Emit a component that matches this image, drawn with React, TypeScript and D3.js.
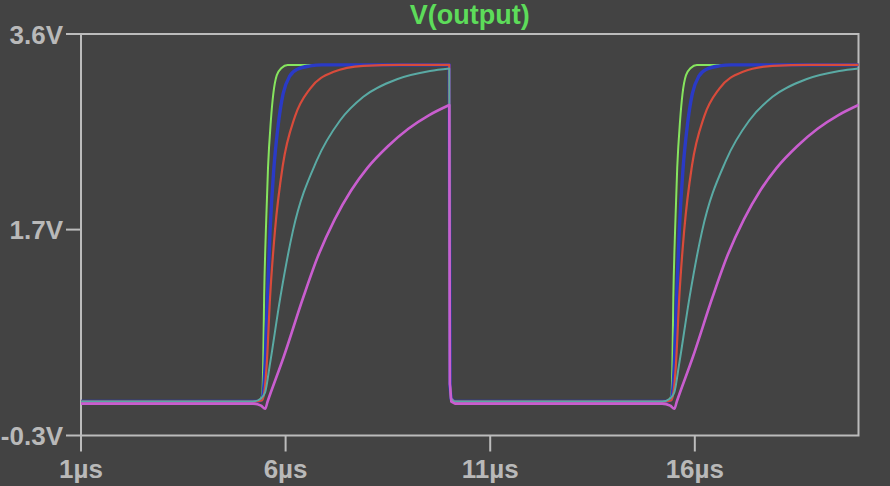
import React from 'react';
import * as d3 from 'd3';

const W = 890;
const H = 486;

const title = 'V(output)';
const xDomain: [number, number] = [1, 20];
const yDomain: [number, number] = [-0.3, 3.6];
const xTicks = [1, 6, 11, 16];
const xTickLabels = ['1µs', '6µs', '11µs', '16µs'];
const yTicks = [3.6, 1.7, -0.3];
const yTickLabels = ['3.6V', '1.7V', '-0.3V'];

// [time µs, volts].
// Each series: smooth part up to the falling edge, the falling edge, then the next smooth part.
const greenRise1: [number, number][] = [
  [1, 0.03], [5.25, 0.03], [5.38, 0.05], [5.43, 0.1], [5.45, 0.35], [5.475, 1.04], [5.52, 1.72],
  [5.57, 2.3], [5.64, 2.76], [5.7, 3.02], [5.785, 3.2], [5.9, 3.27], [6.05, 3.3], [10.0, 3.3],
];
const greenFall: [number, number][] = [[10.0, 3.3], [10.015, 0.2], [10.04, 0.06], [10.12, 0.03]];
const greenRise2: [number, number][] = [
  [10.12, 0.03], [15.25, 0.03], [15.38, 0.05], [15.43, 0.1], [15.45, 0.35], [15.475, 1.04], [15.52, 1.72],
  [15.57, 2.3], [15.64, 2.76], [15.7, 3.02], [15.785, 3.2], [15.9, 3.27], [16.05, 3.3], [20, 3.3],
];

const blueRise1: [number, number][] = [
  [1, 0.03], [5.25, 0.03], [5.4, 0.04], [5.45, 0.1], [5.5, 0.4], [5.555, 1.04], [5.62, 1.69],
  [5.71, 2.28], [5.82, 2.72], [5.94, 3.02], [6.1, 3.19], [6.3, 3.26], [6.6, 3.29], [6.9, 3.3],
  [10.0, 3.3],
];
const blueFall: [number, number][] = [[10.0, 3.3], [10.015, 0.2], [10.04, 0.06], [10.12, 0.03]];
const blueRise2: [number, number][] = [
  [10.12, 0.03], [15.25, 0.03], [15.4, 0.04], [15.45, 0.1], [15.5, 0.4], [15.555, 1.04], [15.62, 1.69],
  [15.71, 2.28], [15.82, 2.72], [15.94, 3.02], [16.1, 3.19], [16.3, 3.26], [16.6, 3.29], [16.9, 3.3],
  [20, 3.3],
];

const redRise1: [number, number][] = [
  [1, 0.03], [5.25, 0.03], [5.42, 0.04], [5.48, 0.12], [5.54, 0.4], [5.62, 1.04], [5.74, 1.69],
  [5.93, 2.32], [6.23, 2.8], [6.6, 3.07], [7.16, 3.23], [7.9, 3.29], [8.8, 3.3], [10.0, 3.3],
];
const redFall: [number, number][] = [[10.0, 3.3], [10.015, 0.2], [10.04, 0.06], [10.12, 0.03]];
const redRise2: [number, number][] = [
  [10.12, 0.03], [15.25, 0.03], [15.42, 0.04], [15.48, 0.12], [15.54, 0.4], [15.62, 1.04], [15.74, 1.69],
  [15.93, 2.32], [16.23, 2.8], [16.6, 3.07], [17.16, 3.23], [17.9, 3.29], [18.8, 3.3], [20, 3.3],
];

const cyanRise1: [number, number][] = [
  [1, 0.03], [5.2, 0.03], [5.4, 0.06], [5.5, 0.12], [5.62, 0.4], [5.87, 1.04], [6.18, 1.69],
  [6.76, 2.37], [7.33, 2.76], [7.9, 2.99], [8.72, 3.16], [9.53, 3.24], [10.0, 3.265],
];
const cyanFall: [number, number][] = [[10.0, 3.265], [10.015, 0.2], [10.04, 0.06], [10.12, 0.03]];
const cyanRise2: [number, number][] = [
  [10.12, 0.03], [15.2, 0.03], [15.4, 0.06], [15.5, 0.12], [15.62, 0.4], [15.87, 1.04], [16.18, 1.69],
  [16.76, 2.37], [17.33, 2.76], [17.9, 2.99], [18.72, 3.16], [19.53, 3.24], [20, 3.265],
];

const magentaRise1: [number, number][] = [
  [1, 0.01], [5.2, 0.01], [5.4, -0.01], [5.5, -0.04], [5.56, 0.03], [5.95, 0.46], [6.43, 1.04],
  [6.8, 1.45], [7.2, 1.8], [7.6, 2.08], [8.0, 2.3], [8.5, 2.51], [9.0, 2.68], [9.5, 2.81], [10.0, 2.91],
];
const magentaFall: [number, number][] = [[10.0, 2.91], [10.015, 0.2], [10.05, 0.03], [10.14, 0.01]];
const magentaRise2: [number, number][] = [
  [10.14, 0.01], [15.2, 0.01], [15.4, -0.01], [15.5, -0.04], [15.56, 0.03], [15.95, 0.46], [16.43, 1.04],
  [16.8, 1.45], [17.2, 1.8], [17.6, 2.08], [18.0, 2.3], [18.5, 2.51], [19.0, 2.68], [19.5, 2.81], [20, 2.91],
];

const seriesList = [
  { name: 'green', parts: [greenRise1, greenFall, greenRise2], color: '#86e45e', width: 2 },
  { name: 'blue', parts: [blueRise1, blueFall, blueRise2], color: '#2a3ac6', width: 3.4 },
  { name: 'red', parts: [redRise1, redFall, redRise2], color: '#d84b3b', width: 2.2 },
  { name: 'cyan', parts: [cyanRise1, cyanFall, cyanRise2], color: '#5aaaa4', width: 2 },
  { name: 'magenta', parts: [magentaRise1, magentaFall, magentaRise2], color: '#c95ecf', width: 2.6 },
];

const plotLeft = 81;
const plotRight = 858.5;
const plotTop = 34;
const plotBottom = 435.5;

const FONT = '"Liberation Sans", Arial, Helvetica, sans-serif';
const BG = '#434343';
const AXIS = '#bcbcbc';
const LABEL = '#b9b9b9';

export default function App() {
  const x = d3.scaleLinear().domain(xDomain).range([plotLeft, plotRight]);
  const y = d3.scaleLinear().domain(yDomain).range([plotBottom, plotTop]);
  const smooth = d3
    .line<[number, number]>()
    .x((d) => x(d[0]))
    .y((d) => y(d[1]))
    .curve(d3.curveMonotoneX);
  const straight = d3
    .line<[number, number]>()
    .x((d) => x(d[0]))
    .y((d) => y(d[1]));

  const pathFor = (parts: [number, number][][]) =>
    parts
      .map((p, i) => {
        const d = (i % 2 === 0 ? smooth(p) : straight(p)) || '';
        return i === 0 ? d : 'L' + d.slice(1);
      })
      .join('');

  return (
    <svg
      width={W}
      height={H}
      style={{ position: 'absolute', left: 0, top: 0, display: 'block' }}
    >
      <rect x={0} y={0} width={W} height={H} fill={BG} />
      <defs>
        <clipPath id="plotclip">
          <rect x={plotLeft} y={plotTop - 3} width={plotRight - plotLeft} height={plotBottom - plotTop + 6} />
        </clipPath>
      </defs>
      <text
        x={(plotLeft + plotRight) / 2}
        y={24}
        textAnchor="middle"
        fill="#5ddc5a"
        fontFamily={FONT}
        fontWeight="bold"
        fontSize={27}
      >
        {title}
      </text>
      <rect
        x={plotLeft}
        y={plotTop}
        width={plotRight - plotLeft}
        height={plotBottom - plotTop}
        fill="none"
        stroke={AXIS}
        strokeWidth={2}
      />
      {yTicks.map((v, i) => (
        <g key={'y' + i}>
          <line x1={plotLeft - 15} x2={plotLeft} y1={y(v)} y2={y(v)} stroke={AXIS} strokeWidth={2} />
          <text
            x={63}
            y={y(v) + 9.5}
            textAnchor="end"
            fill={LABEL}
            fontFamily={FONT}
            fontWeight="bold"
            fontSize={26}
          >
            {yTickLabels[i]}
          </text>
        </g>
      ))}
      {xTicks.map((v, i) => (
        <g key={'x' + i}>
          <line x1={x(v)} x2={x(v)} y1={plotBottom} y2={plotBottom + 16} stroke={AXIS} strokeWidth={2} />
          <text
            x={x(v)}
            y={477.5}
            textAnchor="middle"
            fill={LABEL}
            fontFamily={FONT}
            fontWeight="bold"
            fontSize={26}
          >
            {xTickLabels[i]}
          </text>
        </g>
      ))}
      <g clipPath="url(#plotclip)">
        {seriesList.map((s) => (
          <path
            key={s.name}
            d={pathFor(s.parts)}
            fill="none"
            stroke={s.color}
            strokeWidth={s.width}
            strokeLinejoin="round"
            strokeLinecap="round"
          />
        ))}
      </g>
    </svg>
  );
}
